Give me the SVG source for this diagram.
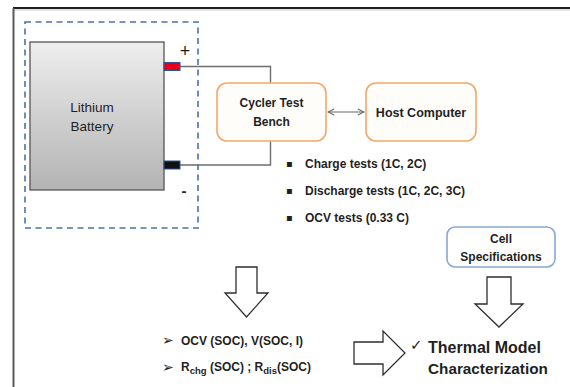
<svg xmlns="http://www.w3.org/2000/svg" width="570" height="387" viewBox="0 0 570 387">
  <defs>
    <linearGradient id="cellFill" x1="0" y1="0" x2="0" y2="1">
      <stop offset="0" stop-color="#eeeeee"/>
      <stop offset="1" stop-color="#b3b3b3"/>
    </linearGradient>
    <marker id="tip" viewBox="0 0 10 10" refX="9" refY="5" markerWidth="7" markerHeight="7" orient="auto-start-reverse">
      <path d="M1,1 L9,5 L1,9" fill="none" stroke="#666" stroke-width="1.4"/>
    </marker>
  </defs>
  <style>
    .frame-top { stroke: #1e1e1e; stroke-width: 2; }
    .frame-left { stroke: #5a5a5a; stroke-width: 2; }
    .group-box { fill: none; stroke: #4a72a8; stroke-width: 1.6; stroke-dasharray: 6 4.5; }
    .wire { fill: none; stroke: #6e6e6e; stroke-width: 1.4; }
    .link { fill: none; stroke: #666; stroke-width: 1.1; }
    .proc { fill: #fffdfa; stroke: #f1a96a; stroke-width: 1.6; }
    .spec { fill: #ffffff; stroke: #86a8d2; stroke-width: 1.6; }
    .block { fill: #ffffff; stroke: #2e2e2e; stroke-width: 1.3; stroke-linejoin: miter; }
    .t { font-family: "Liberation Sans", Arial, sans-serif; fill: #1f1f1f; }
    .b { font-weight: bold; }
    .sym { font-family: "DejaVu Sans", sans-serif; fill: #1f1f1f; }
  </style>

  <!-- page frame -->
  <line class="frame-top" x1="13" y1="8" x2="570" y2="8"/>
  <line x1="14" y1="10" x2="570" y2="10" stroke="#c8c8c8" stroke-width="1.2"/>
  <line class="frame-left" x1="13.5" y1="8" x2="13.5" y2="387"/>

  <!-- dashed enclosure around the cell -->
  <rect class="group-box" x="25" y="22" width="173" height="206"/>

  <!-- connectors -->
  <g id="connectors">
    <polyline class="wire" points="180,66.5 270.5,66.5 270.5,83"/>
    <polyline class="wire" points="180,165 270.5,165 270.5,141"/>
    <line class="link" x1="328" y1="112" x2="364" y2="112" marker-start="url(#tip)" marker-end="url(#tip)"/>
  </g>

  <g id="battery">
    <rect x="30" y="42" width="134" height="148" fill="url(#cellFill)" stroke="#555" stroke-width="1.3"/>
    <text class="t" x="92" y="112" text-anchor="middle" font-size="13.5" fill="#3a3a3a">Lithium</text>
    <text class="t" x="92" y="131" text-anchor="middle" font-size="13.5" fill="#3a3a3a">Battery</text>
    <rect x="164" y="62.5" width="16" height="8" fill="#e8001a" stroke="#2f5597" stroke-width="1"/>
    <rect x="164" y="161" width="16" height="8" fill="#111" stroke="#2f5597" stroke-width="1"/>
    <text class="t" x="185" y="57" text-anchor="middle" font-size="18">+</text>
    <text class="t b" x="184" y="196" text-anchor="middle" font-size="15">-</text>
  </g>

  <g id="cycler">
    <rect class="proc" x="217" y="83" width="109" height="58" rx="10"/>
    <text class="t b" x="271.5" y="107" text-anchor="middle" font-size="12">Cycler Test</text>
    <text class="t b" x="271.5" y="125.5" text-anchor="middle" font-size="12">Bench</text>
  </g>

  <g id="host">
    <rect class="proc" x="366" y="83" width="110" height="58" rx="10"/>
    <text class="t b" x="421" y="116.5" text-anchor="middle" font-size="12.5">Host Computer</text>
  </g>

  <g id="tests">
    <text class="sym" x="286" y="167" font-size="10">▪</text>
    <text class="t b" x="305" y="167.5" font-size="12">Charge tests (1C, 2C)</text>
    <text class="sym" x="286" y="194" font-size="10">▪</text>
    <text class="t b" x="305" y="194.5" font-size="12">Discharge tests (1C, 2C, 3C)</text>
    <text class="sym" x="286" y="221" font-size="10">▪</text>
    <text class="t b" x="305" y="221.5" font-size="12">OCV tests (0.33 C)</text>
  </g>

  <g id="cell-specs">
    <rect class="spec" x="447" y="227" width="108" height="40" rx="8"/>
    <text class="t b" x="501" y="243" text-anchor="middle" font-size="12">Cell</text>
    <text class="t b" x="501" y="261" text-anchor="middle" font-size="12">Specifications</text>
  </g>

  <g id="arrow-results">
    <polygon class="block" points="236,267 257,267 257,293 268,293 246.5,317 225,293 236,293"/>
  </g>

  <g id="arrow-specs">
    <polygon class="block" points="487,277 511,277 511,304 523,304 499,327 475,304 487,304"/>
  </g>

  <g id="arrow-model">
    <polygon class="block" points="354,342 383,342 383,331 405,353 383,375 383,364 354,364"/>
  </g>

  <g id="results">
    <text class="sym" x="162" y="345" font-size="14">➢</text>
    <text class="t b" x="181" y="344.5" font-size="12">OCV (SOC), V(SOC, I)</text>
    <text class="sym" x="162" y="372" font-size="14">➢</text>
    <text class="t b" x="181" y="371" font-size="12">R<tspan font-size="9.5" dy="3">chg</tspan><tspan dy="-3"> (SOC) ; R</tspan><tspan font-size="9.5" dy="3">dis</tspan><tspan dy="-3">(SOC)</tspan></text>
  </g>

  <g id="model">
    <text class="sym" x="410" y="350" font-size="15">✓</text>
    <text class="t b" x="428" y="353" font-size="16">Thermal Model</text>
    <text class="t b" x="428" y="374" font-size="15.3">Characterization</text>
  </g>
</svg>
